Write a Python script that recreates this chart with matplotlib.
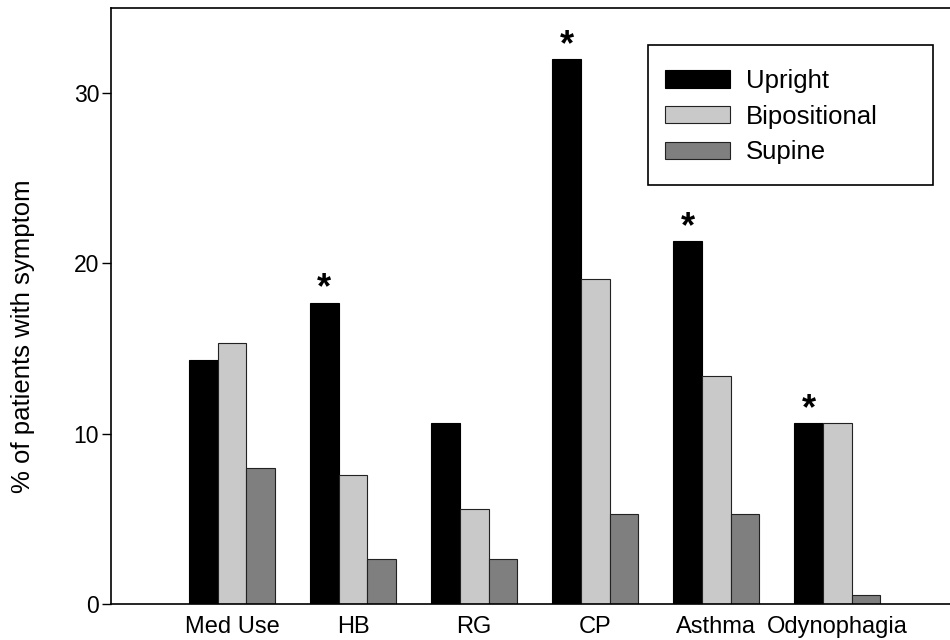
import matplotlib.pyplot as plt
from matplotlib.patches import Rectangle
import numpy as np

plt.rcParams['font.family'] = ['Liberation Sans', 'DejaVu Sans']

categories = ['Med Use', 'HB', 'RG', 'CP', 'Asthma', 'Odynophagia']
upright = [14.3, 17.7, 10.6, 32.0, 21.3, 10.6]
bipositional = [15.3, 7.6, 5.6, 19.1, 13.4, 10.6]
supine = [8.0, 2.65, 2.65, 5.3, 5.3, 0.5]
significant = [False, True, False, True, True, True]

x = np.arange(len(categories))
w = 0.237

fig = plt.figure(figsize=(9.5, 6.4), dpi=100)
ax = fig.add_axes([0.1168, 0.0563, 0.8832, 0.9312])

ax.bar(x - w, upright, w, color='black', edgecolor='black', linewidth=0.8, label='Upright')
ax.bar(x, bipositional, w, color='#c9c9c9', edgecolor='#222222', linewidth=0.8, label='Bipositional')
ax.bar(x + w, supine, w, color='#7f7f7f', edgecolor='#222222', linewidth=0.8, label='Supine')

# significance markers above the upright bars
for xi, v, s in zip(x, upright, significant):
    if s:
        ax.annotate('*', (xi - w, v), xytext=(0, 3), textcoords='offset points',
                    ha='center', va='baseline', fontsize=26, fontweight='bold')

ax.set_xlim(-1.0, 5.93)
ax.set_ylim(0, 35)
ax.set_yticks([0, 10, 20, 30])
ax.set_xticks(x)
ax.set_xticklabels(categories)
ax.tick_params(axis='x', length=0, pad=9, labelsize=17)
ax.tick_params(axis='y', direction='out', length=6.5, width=1, labelsize=16.5, pad=2)
ax.set_ylabel('% of patients with symptom', fontsize=18.5)
ax.yaxis.set_label_coords(-0.091, 0.45)
ax.spines['right'].set_visible(False)
for sp in ['left', 'top', 'bottom']:
    ax.spines[sp].set_linewidth(1.2)

# legend box drawn separately so its padding can be wider than the entries need
ax.add_patch(Rectangle((0.682, 0.7109), 0.3, 0.2188, transform=fig.transFigure,
                       facecolor='white', edgecolor='black', linewidth=1.2,
                       zorder=5, clip_on=False))
leg = ax.legend(loc='upper left', bbox_to_anchor=(0.700, 0.8920), bbox_transform=fig.transFigure,
                fontsize=18.5, frameon=False, handlelength=2.53, handleheight=0.66,
                handletextpad=0.62, labelspacing=0.45, borderpad=0, borderaxespad=0)
leg.set_zorder(6)

fig.savefig('out.png', dpi=100)
